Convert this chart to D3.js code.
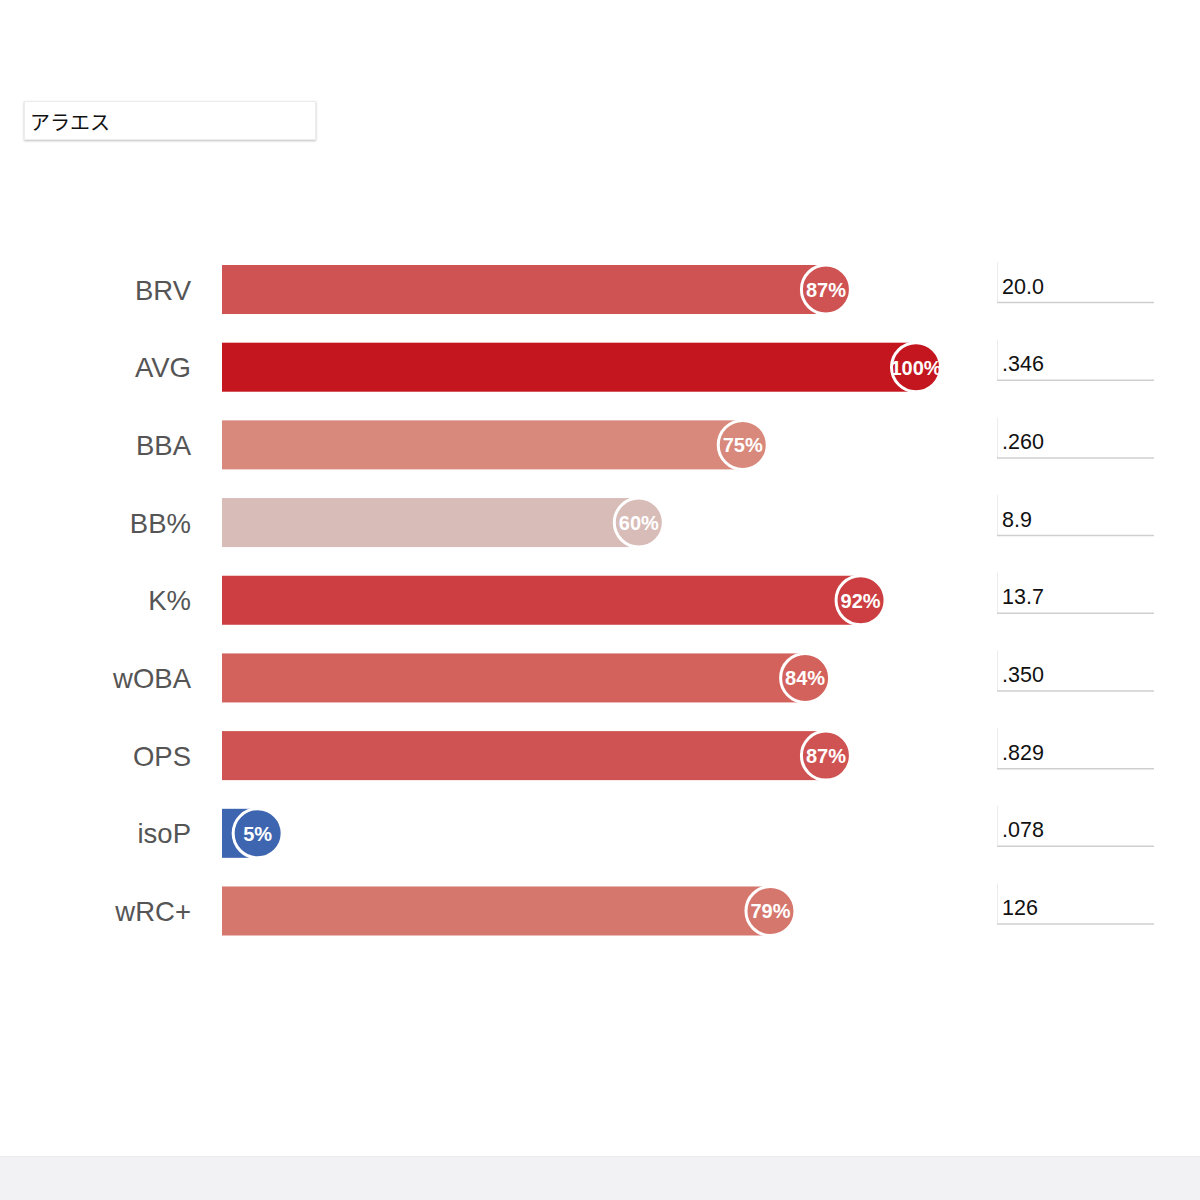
<!DOCTYPE html>
<html>
<head>
<meta charset="utf-8">
<script src="https://cdn.jsdelivr.net/npm/d3@7"></script>
<style>
  html, body { margin: 0; padding: 0; background: #fff; }
  body { width: 1200px; height: 1200px; position: relative; overflow: hidden; font-family: "Liberation Sans", Arial, Helvetica, sans-serif; }
</style>
</head>
<body>
<svg id="chart" width="1200" height="1200"></svg>
<script>
const playerName = "アラエス";
const metrics = ["BRV", "AVG", "BBA", "BB%", "K%", "wOBA", "OPS", "isoP", "wRC+"];
const percentiles = [87, 100, 75, 60, 92, 84, 87, 5, 79];
const statValues = ["20.0", ".346", ".260", "8.9", "13.7", ".350", ".829", ".078", "126"];

const colorStops = [5, 60, 75, 79, 84, 87, 92, 100];
const colorRange = ["#3e66b0", "#d8bcb8", "#d8897c", "#d6776e", "#d4625c", "#cf5353", "#cc3e41", "#c4161f"];

const svg = d3.select("#chart");

// bottom gray band
svg.append("rect").attr("x", 0).attr("y", 1156).attr("width", 1200).attr("height", 44).attr("fill", "#f2f2f4");
svg.append("line").attr("x1", 0).attr("x2", 1200).attr("y1", 1156.5).attr("y2", 1156.5).attr("stroke", "#ebebee");

// name input box
const defs = svg.append("defs");
const f = defs.append("filter").attr("id", "sh").attr("x", "-5%").attr("y", "-20%").attr("width", "110%").attr("height", "150%");
f.append("feDropShadow").attr("dx", 0).attr("dy", 1).attr("stdDeviation", 0.8).attr("flood-color", "#000").attr("flood-opacity", 0.25);
svg.append("rect").attr("x", 24.5).attr("y", 101.5).attr("width", 291).attr("height", 38)
  .attr("fill", "#fff").attr("stroke", "#ececec").attr("filter", "url(#sh)");
svg.append("text").attr("x", 30).attr("y", 130).attr("font-size", 20).attr("fill", "#111")
  .attr("font-family", "'Noto Sans CJK JP', sans-serif").text(playerName);

const x = d3.scaleLinear().domain([0, 100]).range([223, 916]);
const y = d3.scaleBand().domain(metrics).range([265, 935.5]).paddingInner(0.369).paddingOuter(0);
const color = d3.scaleLinear().domain(colorStops).range(colorRange);

const rows = svg.append("g").selectAll("g").data(metrics).join("g");

// labels
rows.append("text")
  .attr("x", 191).attr("y", d => y(d) + y.bandwidth() / 2 + 10)
  .attr("text-anchor", "end").attr("font-size", 27.5).attr("fill", "#555")
  .text(d => d);

// bars
rows.append("rect")
  .attr("x", 222).attr("y", d => y(d))
  .attr("width", (d, i) => x(percentiles[i]) - 222)
  .attr("height", y.bandwidth())
  .attr("fill", (d, i) => color(percentiles[i]));

// circles
rows.append("circle")
  .attr("cx", (d, i) => x(percentiles[i]))
  .attr("cy", d => y(d) + y.bandwidth() / 2)
  .attr("r", 24.5)
  .attr("fill", (d, i) => color(percentiles[i]))
  .attr("stroke", "#fff").attr("stroke-width", 3);

rows.append("text")
  .attr("x", (d, i) => x(percentiles[i]))
  .attr("y", d => y(d) + y.bandwidth() / 2 + 7.5)
  .attr("text-anchor", "middle").attr("font-size", 20).attr("font-weight", "bold")
  .attr("fill", "#fff")
  .text((d, i) => percentiles[i] + "%");

// value boxes
rows.append("line")
  .attr("x1", 997.5).attr("x2", 997.5)
  .attr("y1", d => y(d) - 3).attr("y2", d => y(d) + y.bandwidth() - 11)
  .attr("stroke", "#ececec");
rows.append("line")
  .attr("x1", 997).attr("x2", 1154)
  .attr("y1", d => y(d) + y.bandwidth() - 11.5).attr("y2", d => y(d) + y.bandwidth() - 11.5)
  .attr("stroke", "#cfcfcf").attr("stroke-width", 1.5);
rows.append("text")
  .attr("x", 1002).attr("y", d => y(d) + y.bandwidth() / 2 + 4)
  .attr("font-size", 21.5).attr("fill", "#111")
  .attr("font-family", "Helvetica, 'Liberation Sans', Arial, sans-serif")
  .text((d, i) => statValues[i]);
</script>
</body>
</html>
